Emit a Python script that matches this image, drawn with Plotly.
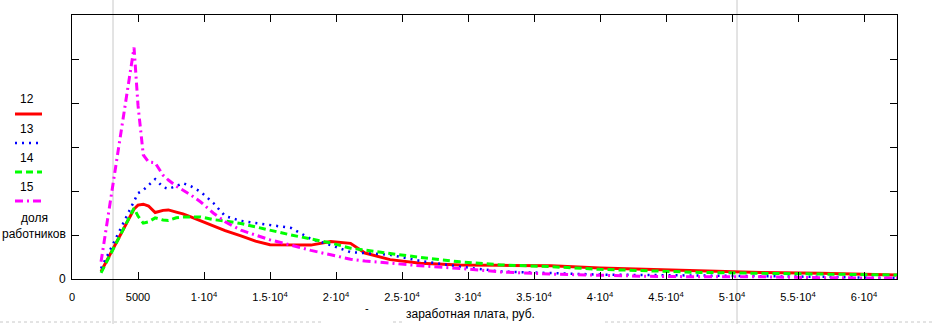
import plotly.graph_objects as go

# Salary grid (rubles) and share of workers per year series
salary = [2200, 4700, 5000, 5400, 5800, 6300, 6900, 7300, 7900, 8400, 9000, 9750,
          10700, 11600, 12800, 13900, 15000, 16600, 18100, 19600, 21100, 22200,
          24100, 26400, 29400, 32500, 36300, 40000, 43800, 47600, 52200, 56700, 62500]

share_12 = [0.0017, 0.0159, 0.0168, 0.0170, 0.0166, 0.0151, 0.0156, 0.0157, 0.0152, 0.0148,
            0.0141, 0.0132, 0.0120, 0.0110, 0.0098, 0.0086, 0.0078, 0.0077, 0.0077, 0.0085,
            0.0081, 0.0059, 0.0044, 0.0036, 0.0032, 0.0031, 0.0030, 0.0025, 0.0022, 0.0018,
            0.0015, 0.0013, 0.0009]
share_13 = [0.0024, 0.0180, 0.0195, 0.0202, 0.0214, 0.0227, 0.0209, 0.0205, 0.0211, 0.0218,
            0.0211, 0.0198, 0.0173, 0.0143, 0.0132, 0.0127, 0.0123, 0.0116, 0.0091, 0.0077,
            0.0061, 0.0059, 0.0055, 0.0041, 0.0028, 0.0017, 0.0013, 0.0010, 0.0009, 0.0008,
            0.0006, 0.0005, 0.0002]
share_14 = [0.0014, 0.0161, 0.0143, 0.0127, 0.0130, 0.0139, 0.0134, 0.0133, 0.0139, 0.0141,
            0.0141, 0.0141, 0.0135, 0.0132, 0.0126, 0.0118, 0.0110, 0.0100, 0.0091, 0.0082,
            0.0070, 0.0066, 0.0058, 0.0049, 0.0039, 0.0032, 0.0028, 0.0022, 0.0018, 0.0015,
            0.0013, 0.0011, 0.0009]
share_15 = [0.0039, 0.0526, 0.0395, 0.0282, 0.0266, 0.0264, 0.0236, 0.0225, 0.0211, 0.0202,
            0.0191, 0.0175, 0.0150, 0.0130, 0.0111, 0.0100, 0.0089, 0.0077, 0.0065, 0.0055,
            0.0045, 0.0041, 0.0036, 0.0030, 0.0024, 0.0016, 0.0011, 0.0008, 0.0006, 0.0005,
            0.0005, 0.0003, 0.0002]

series_names = ["12", "13", "14", "15"]
x_tick_vals = [0, 5000, 10000, 15000, 20000, 25000, 30000, 35000, 40000, 45000, 50000, 55000, 60000]
x_tick_text = ["0", "5000", "1·10<sup>4</sup>", "1.5·10<sup>4</sup>", "2·10<sup>4</sup>",
               "2.5·10<sup>4</sup>", "3·10<sup>4</sup>", "3.5·10<sup>4</sup>", "4·10<sup>4</sup>",
               "4.5·10<sup>4</sup>", "5·10<sup>4</sup>", "5.5·10<sup>4</sup>", "6·10<sup>4</sup>"]
y_tick_vals = [0, 0.01, 0.02, 0.03, 0.04, 0.05, 0.06]
y_tick_text = ["0", "", "", "", "", "", ""]
x_title = "заработная плата, руб."
y_title = ["доля", "работников"]

W, H = 932, 324
L, R, T, B = 72, 897, 15, 279
FONT = "Liberation Sans"


def px(x):
    return (x - L) / (R - L)


def py(y):
    return (B - y) / (B - T)


styles = [
    dict(color="#ff0000", width=3, dash="solid"),
    dict(color="#0000ff", width=2.5, dash="2px,5px"),
    dict(color="#00ff00", width=3, dash="7px,4px"),
    dict(color="#ff00ff", width=3, dash="8px,4px,2px,4px"),
]

fig = go.Figure()
for name, vals, st in zip(series_names, [share_12, share_13, share_14, share_15], styles):
    fig.add_trace(go.Scatter(x=salary, y=vals, mode="lines", name=name, line=st,
                             showlegend=False))

axis_common = dict(showgrid=False, zeroline=False, showline=True, linecolor="black",
                   linewidth=1, mirror="ticks", ticks="inside", ticklen=7, tickwidth=1,
                   tickcolor="black")

fig.update_layout(
    width=W, height=H,
    margin=dict(l=L, r=W - R, t=T, b=H - B),
    paper_bgcolor="white", plot_bgcolor="white",
    font=dict(family=FONT, color="black", size=11),
    xaxis=dict(range=[0, 62500], tickvals=x_tick_vals, ticktext=x_tick_text,
               tickfont=dict(size=11), ticklabelstandoff=8, **axis_common),
    yaxis=dict(range=[0, 0.06], tickvals=y_tick_vals, ticktext=y_tick_text,
               tickfont=dict(size=12), ticklabelstandoff=3, **axis_common),
)

# Left-side labels: series names with line samples, then the axis caption
label_rows = [(99, 114), (129, 143), (158, 172), (187, 201)]
for name, st, (ty, ly) in zip(series_names, styles, label_rows):
    fig.add_annotation(x=px(27), y=py(ty), xref="paper", yref="paper", text=name,
                       showarrow=False, font=dict(size=12), xanchor="center", yanchor="middle")
    fig.add_shape(type="line", xref="paper", yref="paper", x0=px(15), x1=px(42),
                  y0=py(ly), y1=py(ly), line=st)
fig.add_annotation(x=px(34), y=py(218), xref="paper", yref="paper", text=y_title[0],
                   showarrow=False, font=dict(size=12), xanchor="center", yanchor="middle")
fig.add_annotation(x=px(0), y=py(234), xref="paper", yref="paper", text=y_title[1],
                   showarrow=False, font=dict(size=12), xanchor="left", yanchor="middle")

# x-axis caption
fig.add_annotation(x=px(404), y=py(314), xref="paper", yref="paper", text=x_title,
                   showarrow=False, font=dict(size=12), xanchor="left", yanchor="middle")
fig.add_annotation(x=px(367), y=py(308), xref="paper", yref="paper", text="-",
                   showarrow=False, font=dict(size=11), xanchor="center", yanchor="middle")

# Light grey markers across the page
for gx in (113, 737):
    fig.add_shape(type="line", xref="paper", yref="paper", x0=px(gx), x1=px(gx),
                  y0=py(H), y1=py(0), line=dict(color="#c8c8c8", width=1), layer="below")
for x0, x1 in ((0, 323), (393, 402), (605, W)):
    fig.add_shape(type="line", xref="paper", yref="paper", x0=px(x0), x1=px(x1),
                  y0=py(322), y1=py(322), line=dict(color="#c8c8c8", width=1, dash="3px,3px"))

fig.write_html("out.html")
